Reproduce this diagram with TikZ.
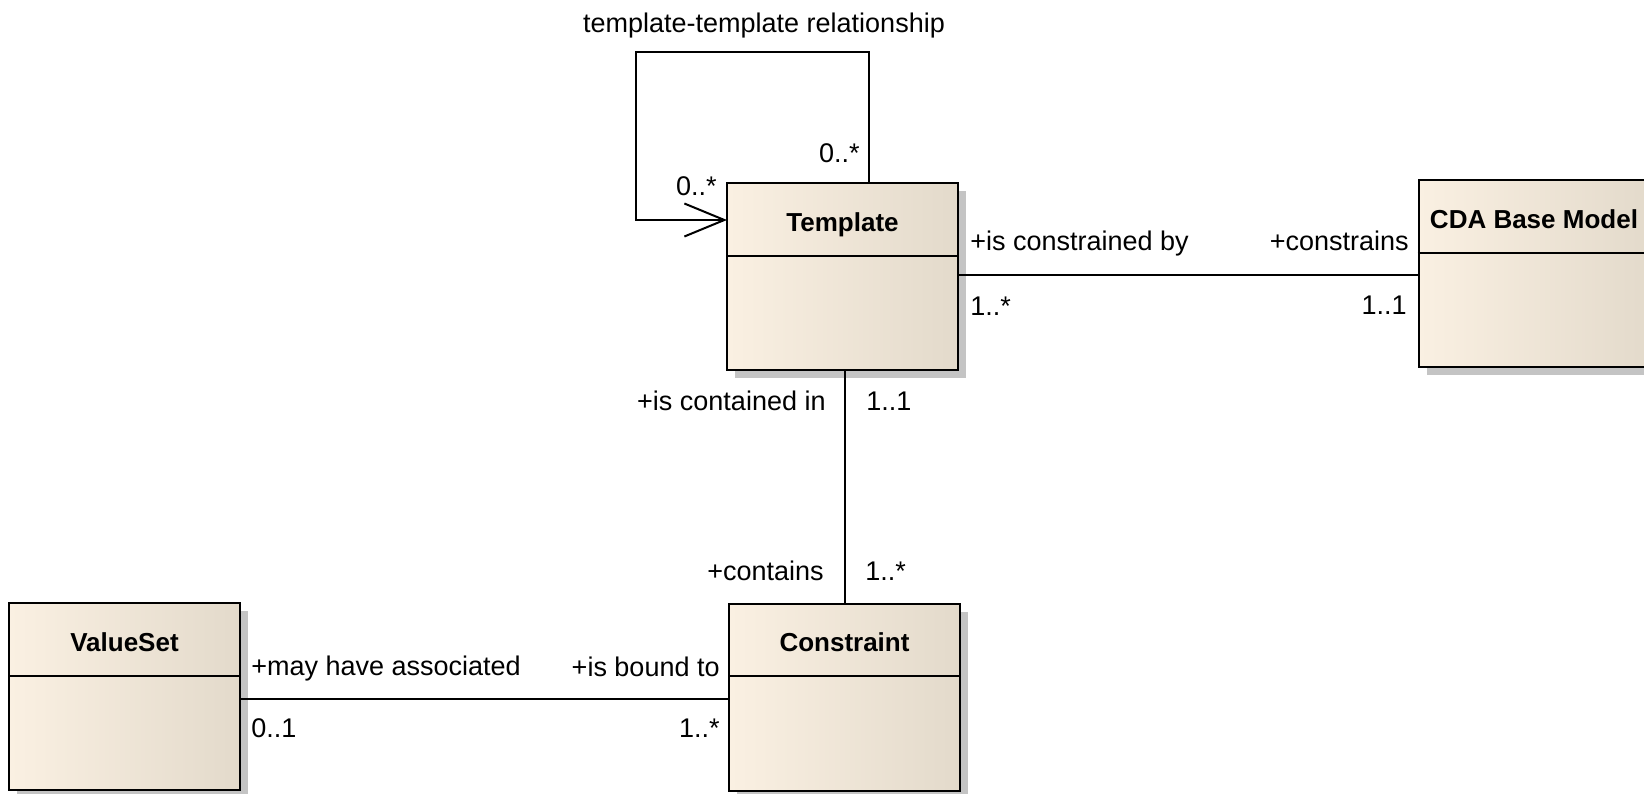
\documentclass[tikz,border=0pt]{standalone}
\usepackage{fontspec}
\setmainfont{Liberation Sans}
\usetikzlibrary{positioning,shadows,arrows.meta}
\definecolor{classleft}{HTML}{FAF0E2}
\definecolor{classright}{HTML}{E3DACB}
\definecolor{shadowgray}{HTML}{C4C4C4}
\tikzset{
classbox/.style={draw,line width=1pt,left color=classleft,right color=classright,minimum width=115.5pt,minimum height=93.5pt,inner sep=0pt,drop shadow={shadow xshift=4pt,shadow yshift=-4pt,fill=shadowgray,opacity=1}},
classname/.style={font=\fontsize{13}{15}\selectfont\bfseries,minimum height=33.5pt,text depth=0pt,inner sep=0pt},
role/.style={font=\fontsize{13.5}{15}\selectfont,inner sep=0pt},
assoc/.style={line width=1pt}
}
\begin{document}
\begin{tikzpicture}[x=0.5pt,y=-0.5pt]
\useasboundingbox(0,0)rectangle(1644,793);
\clip(0,0)rectangle(1644,793);
% classes
\node[classbox](template)at(842.5,276.5){};
\node[classname,below=3pt of template.north](templatename){Template};
\draw[assoc](templatename.south-|template.west)--(templatename.south-|template.east);
\node[classbox](cda)at(1534,273.5){};
\node[classname,below=3pt of cda.north](cdaname){CDA Base Model};
\draw[assoc](cdaname.south-|cda.west)--(cdaname.south-|cda.east);
\node[classbox](constraint)at(844.5,697){};
\node[classname,below=3pt of constraint.north](constraintname){Constraint};
\draw[assoc](constraintname.south-|constraint.west)--(constraintname.south-|constraint.east);
\node[classbox](valueset)at(124.5,696.5){};
\node[classname,below=3pt of valueset.north](valuesetname){ValueSet};
\draw[assoc](valuesetname.south-|valueset.west)--(valuesetname.south-|valueset.east);
% associations
\draw[assoc]([yshift=.75pt]template.east)--([yshift=.75pt]template.east-|cda.west);
\draw[assoc](template.south-|constraint.north)--(constraint.north);
\draw[assoc]([yshift=-1.25pt]valueset.east)--([yshift=-1.25pt]valueset.east-|constraint.west);
\coordinate(loopstart)at(869,183);
\coordinate(loopcorner)at(636,52);
\coordinate(loopend)at(727,220);
\draw[assoc,-{Straight Barb[length=20pt,width=16.5pt]}](loopstart)|-(loopcorner)|-(loopend);
% role names and multiplicities
\node[role,anchor=base](looplabel)at(764,32){template-template relationship};
\node[role,anchor=base east](loopsrcmult)at(860,162){0..*};
\node[role,anchor=base east](looptgtmult)at(717,195){0..*};
\node[role,anchor=base west](cdarole)at(970,250){+is constrained by};
\node[role,anchor=base west](cdamult)at(970,315){1..*};
\node[role,anchor=base east](templaterole)at(1409,250){+constrains};
\node[role,anchor=base east](templatemult)at(1407,314){1..1};
\node[role,anchor=base east](containedrole)at(826,410){+is contained in};
\node[role,anchor=base west](containedmult)at(866,410){1..1};
\node[role,anchor=base east](containsrole)at(824,580){+contains};
\node[role,anchor=base west](containsmult)at(865,580){1..*};
\node[role,anchor=base east](boundrole)at(720,676){+is bound to};
\node[role,anchor=base east](boundmult)at(720,737){1..*};
\node[role,anchor=base west](associatedrole)at(251,675){+may have associated};
\node[role,anchor=base west](associatedmult)at(251,737){0..1};
\end{tikzpicture}
\end{document}
